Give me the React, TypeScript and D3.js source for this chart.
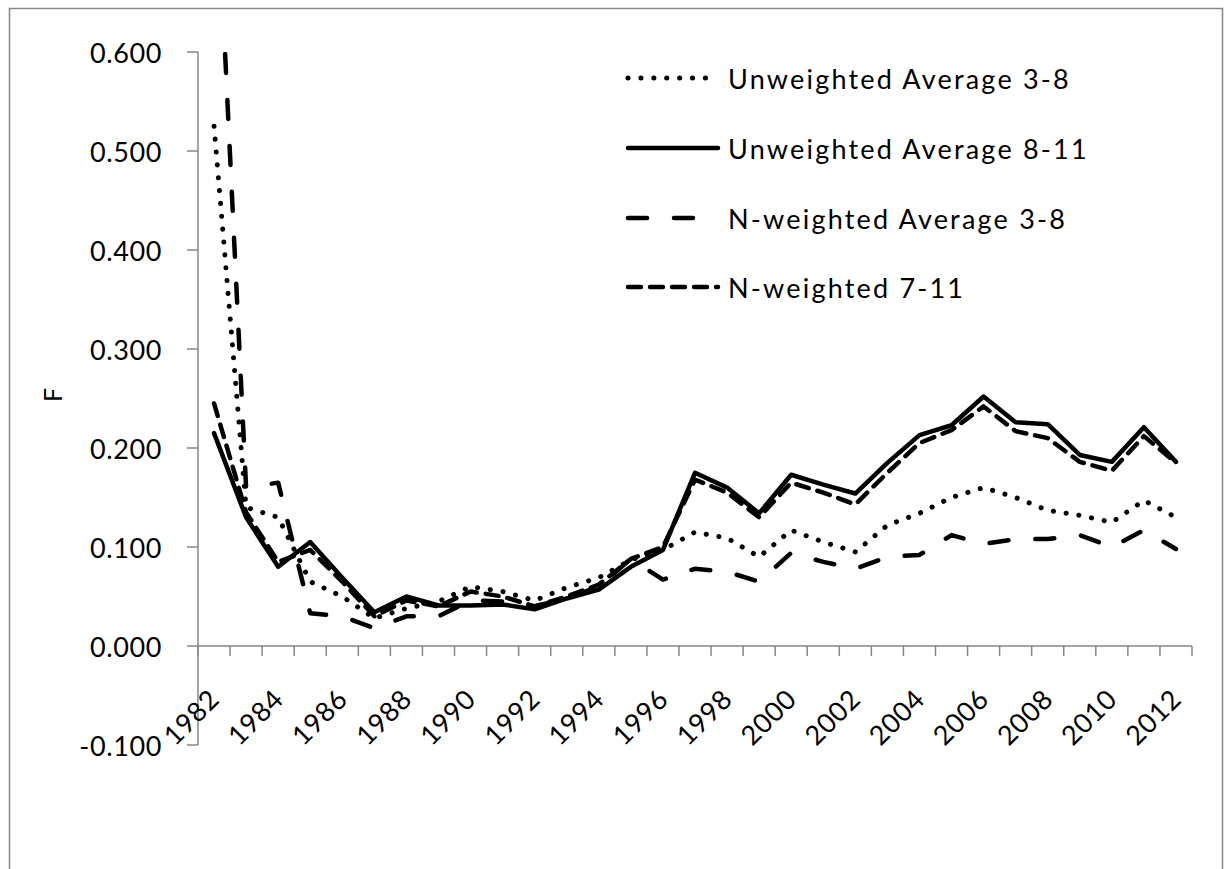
import React from "react";
import * as d3 from "d3";

const years = d3.range(1982, 2013).map(String);
const yTicks = [-0.1, 0, 0.1, 0.2, 0.3, 0.4, 0.5, 0.6];
const xLabelYears = years.filter((_, i) => i % 2 === 0);

const unweighted38 = [0.525, 0.14, 0.13, 0.065, 0.05, 0.028, 0.038, 0.045, 0.06, 0.055, 0.046, 0.059, 0.069, 0.087, 0.097, 0.115, 0.109, 0.09, 0.117, 0.105, 0.095, 0.122, 0.134, 0.15, 0.16, 0.15, 0.137, 0.132, 0.125, 0.147, 0.13];
const unweighted811 = [0.215, 0.13, 0.08, 0.105, 0.069, 0.034, 0.05, 0.041, 0.041, 0.042, 0.037, 0.048, 0.057, 0.08, 0.097, 0.175, 0.16, 0.134, 0.173, 0.163, 0.154, 0.185, 0.213, 0.223, 0.252, 0.226, 0.224, 0.193, 0.186, 0.221, 0.186];
const nWeighted38 = [0.83, 0.16, 0.165, 0.033, 0.03, 0.018, 0.03, 0.03, 0.046, 0.045, 0.04, 0.048, 0.06, 0.088, 0.067, 0.078, 0.075, 0.065, 0.094, 0.085, 0.078, 0.09, 0.092, 0.112, 0.103, 0.108, 0.108, 0.112, 0.1, 0.117, 0.098];
const nWeighted711 = [0.245, 0.135, 0.085, 0.097, 0.065, 0.03, 0.046, 0.04, 0.055, 0.05, 0.04, 0.05, 0.062, 0.088, 0.1, 0.168, 0.155, 0.13, 0.165, 0.155, 0.143, 0.175, 0.205, 0.218, 0.242, 0.217, 0.21, 0.186, 0.177, 0.212, 0.185];

const seriesNames = ["Unweighted Average 3-8", "Unweighted Average 8-11", "N-weighted Average 3-8", "N-weighted 7-11"];
const seriesValues = [unweighted38, unweighted811, nWeighted38, nWeighted711];

const styles = [
  { dash: "0.1 12.8", width: 5 },
  { dash: null, width: 4.5 },
  { dash: "19 27", width: 4.5 },
  { dash: "13 9", width: 4.5 },
];

const FONT = "Lato, 'Open Sans', sans-serif";
const AXIS = "#868686";

export default function App() {
  const W = 1232, H = 869;
  const left = 198, right = 1192, top = 52, bottom = 745;
  const x = d3.scaleBand<string>().domain(years).range([left, right]).padding(0);
  const cx = (yr: string) => (x(yr) as number) + x.bandwidth() / 2;
  const y = d3.scaleLinear().domain([-0.1, 0.6]).range([bottom, top]);
  const y0 = y(0);

  const line = d3.line<number>().x((_, i) => cx(years[i])).y((d) => y(d));

  const legendX1 = 628, legendX2 = 718;
  const legendY = [78, 148, 218, 287];

  return (
    <svg width={W} height={H} style={{ position: "absolute", left: 0, top: 0, background: "#fff" }} fontFamily={FONT}>
      <defs>
        <clipPath id="plot">
          <rect x={left} y={top} width={right - left} height={bottom - top} />
        </clipPath>
      </defs>
      <rect x={9.5} y={8.5} width={1213} height={900} fill="none" stroke={AXIS} strokeWidth={1.5} />

      {/* y axis */}
      <line x1={left} x2={left} y1={top} y2={bottom} stroke={AXIS} strokeWidth={1.5} />
      {yTicks.map((t) => (
        <g key={t}>
          <line x1={left - 11} x2={left} y1={y(t)} y2={y(t)} stroke={AXIS} strokeWidth={1.5} />
          <text x={162} y={y(t)} textAnchor="end" dominantBaseline="central" fontSize={27} fill="#000" letterSpacing={0.6}>
            {d3.format(".3f")(t).replace("−", "-")}
          </text>
        </g>
      ))}
      <text transform={`translate(52,395) rotate(-90)`} textAnchor="middle" dominantBaseline="central" fontSize={25} fill="#000">F</text>

      {/* x axis */}
      <line x1={left} x2={right} y1={y0} y2={y0} stroke={AXIS} strokeWidth={1.5} />
      {[...years.map((yr) => x(yr) as number), right].map((px, i) => (
        <line key={i} x1={px} x2={px} y1={y0} y2={y0 + 10} stroke={AXIS} strokeWidth={1.5} />
      ))}
      {xLabelYears.map((yr) => (
        <text key={yr} transform={`translate(${cx(yr) + 7},${y0 + 55}) rotate(-45)`} textAnchor="end" fontSize={27} fill="#000" letterSpacing={0.6}>
          {yr}
        </text>
      ))}

      {/* series */}
      <g clipPath="url(#plot)">
        {seriesValues.map((vals, i) => (
          <path key={i} d={line(vals) as string} fill="none" stroke="#000" strokeWidth={styles[i].width}
            strokeDasharray={styles[i].dash ?? undefined} strokeLinecap="round" strokeLinejoin="round" />
        ))}
      </g>

      {/* legend */}
      {seriesNames.map((name, i) => (
        <g key={name}>
          <line x1={legendX1} x2={legendX2} y1={legendY[i]} y2={legendY[i]} stroke="#000" strokeWidth={styles[i].width}
            strokeDasharray={styles[i].dash ?? undefined} strokeLinecap="round" />
          <text x={728} y={legendY[i]} dominantBaseline="central" fontSize={27} fill="#000" letterSpacing={2.2}>{name}</text>
        </g>
      ))}
    </svg>
  );
}
